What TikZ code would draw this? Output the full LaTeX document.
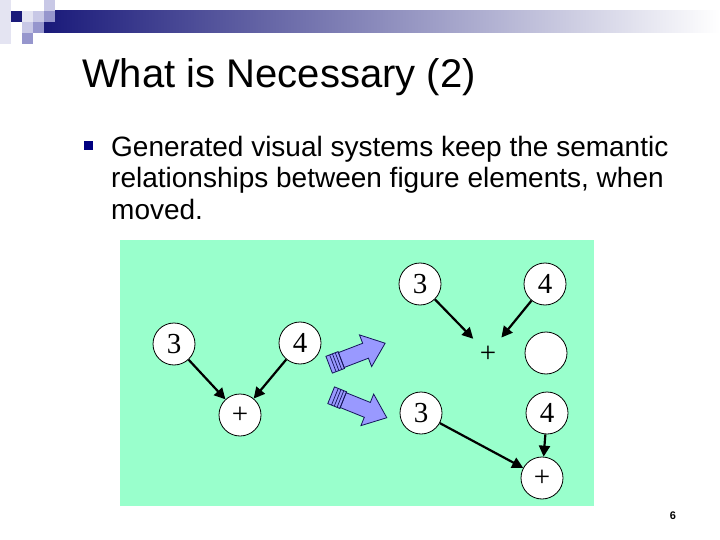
\documentclass[tikz,border=0pt]{standalone}
\usepackage{fontspec}
\setmainfont{Liberation Sans}
\newfontfamily\numfont{Liberation Serif}
\usetikzlibrary{arrows.meta}
\definecolor{navy}{RGB}{26,26,122}
\definecolor{lavA}{RGB}{228,228,242}
\definecolor{lavB}{RGB}{200,200,230}
\definecolor{lavC}{RGB}{150,150,205}
\definecolor{mint}{RGB}{153,255,204}
\definecolor{blockblue}{RGB}{153,153,255}
\definecolor{blockedge}{RGB}{20,20,90}
\definecolor{bulletblue}{RGB}{0,0,128}
\tikzset{
  numnode/.style={circle, draw=black, line width=0.8pt, fill=white, minimum size=42pt, inner sep=0pt,
                  font=\numfont\fontsize{29}{29}\selectfont},
  ghost/.style={circle, minimum size=42pt, inner sep=0pt, font=\numfont\fontsize{29}{29}\selectfont},
  link/.style={line width=2.2pt, -{Triangle[length=11pt,width=11pt]}},
  bodytext/.style={anchor=base west, inner sep=0pt, font=\fontsize{28}{31}\selectfont},
  blockarrow/.style={fill=blockblue, draw=blockedge, line width=0.8pt, line join=miter},
  stripe/.style={draw=blockedge, line width=0.7pt}
}
\newcommand{\blockarr}{%
  \path[blockarrow] (0,-8) -- (37,-8) -- (37,-17) -- (58,0) -- (37,17) -- (37,8) -- (0,8) -- cycle;
  \path[blockarrow] (-2,-9) rectangle (11,9);
  \draw[stripe] (2,-9) -- (2,9);
  \draw[stripe] (5,-9) -- (5,9);
  \draw[stripe] (8,-9) -- (8,9);
  \draw[stripe] (11,-9) -- (11,9);
}
\begin{document}
\begin{tikzpicture}[x=1pt,y=-1pt]
\useasboundingbox (0,0) rectangle (720,540);
\fill[white] (0,0) rectangle (720,540);
% header decoration
\shade[left color=navy, right color=white] (44,11) rectangle (720,33);
\fill[lavA] (0,0) rectangle (11,44);
\fill[navy] (11,11) rectangle (22,22);
\fill[lavA] (22,11) rectangle (33,22);
\fill[lavB] (33,11) rectangle (44,22);
\fill[lavB] (44,0) rectangle (55,11);
\fill[lavC] (44,11) rectangle (55,22);
\fill[lavB] (22,22) rectangle (33,33);
\fill[lavC] (33,22) rectangle (44,33);
\fill[lavC] (22,33) rectangle (33,44);
% title
\node[anchor=base west, inner sep=0pt, font=\fontsize{40}{48}\selectfont] (title) at (82,88) {What is Necessary (2)};
% bullet and text
\fill[bulletblue] (84,141) rectangle (93,150);
\node[bodytext] (l1) at (111,157) {Generated visual systems keep the semantic};
\node[bodytext] (l2) at (111,188) {relationships between figure elements, when};
\node[bodytext] (l3) at (111,219) {moved.};
% green panel
\fill[mint] (120,240) rectangle (594,506);
% left graph
\node[numnode] (a3) at (174,344) {3};
\node[numnode] (a4) at (300,343) {4};
\node[numnode] (ap) at (240,415) {+};
\draw[link] (a3) -- (ap);
\draw[link] (a4) -- (ap);
% top right graph
\node[numnode] (b3) at (420,284) {3};
\node[numnode] (b4) at (545,284) {4};
\node[ghost] (bp) at (488,354) {+};
\node[numnode] (bc) at (546,353) {};
\draw[link] (b3) -- (bp);
\draw[link] (b4) -- (bp);
% bottom right graph
\node[numnode] (c3) at (421,413) {3};
\node[numnode] (c4) at (547,413) {4};
\node[numnode] (cp) at (542,478) {+};
\draw[link] (c3) -- (cp);
\draw[link] (c4) -- (cp);
% block arrows
\begin{scope}[shift={(331,364)}, rotate=21]
\blockarr
\end{scope}
\begin{scope}[shift={(333,396)}, rotate=-22]
\blockarr
\end{scope}
% page number
\node[font=\bfseries\fontsize{11}{11}\selectfont, inner sep=0pt] (pg) at (673,516) {6};
\end{tikzpicture}
\end{document}
